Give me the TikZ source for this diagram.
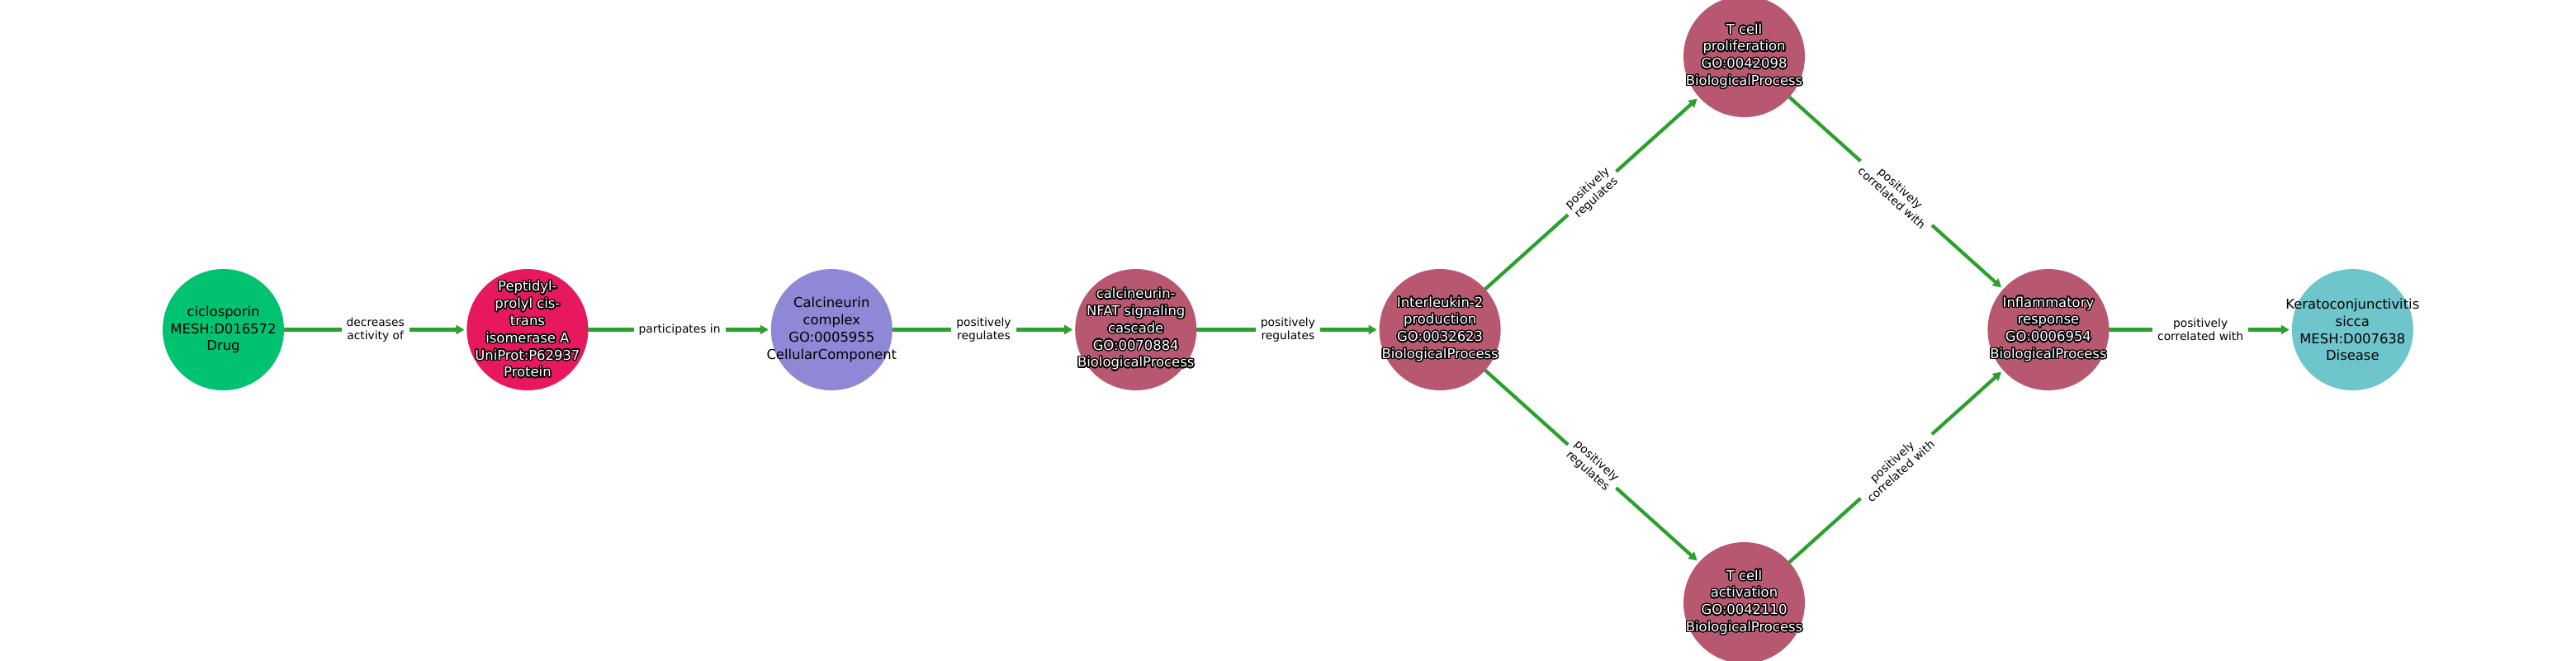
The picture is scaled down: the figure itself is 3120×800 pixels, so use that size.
\documentclass[tikz,border=0pt]{standalone}
\usepackage{fontspec}
\setmainfont{DejaVu Sans}
\usepackage[copies]{contour}
\contourlength{0.7pt}
\contournumber{24}
\usetikzlibrary{arrows.meta}
\definecolor{cdrug}{RGB}{0,194,112}
\definecolor{cprot}{RGB}{231,24,93}
\definecolor{ccc}{RGB}{142,136,214}
\definecolor{cbp}{RGB}{184,88,112}
\definecolor{cdis}{RGB}{110,197,204}
\definecolor{egreen}{RGB}{44,160,44}
\newcommand{\wl}[1]{\contour{black}{#1}}
\tikzset{
  ent/.style={circle, minimum size=73.5pt, inner sep=0pt, outer sep=0pt},
  drug/.style={ent, fill=cdrug},
  prot/.style={ent, fill=cprot},
  ccomp/.style={ent, fill=ccc},
  bproc/.style={ent, fill=cbp},
  dis/.style={ent, fill=cdis},
  btxt/.style={align=center, text=black, font=\fontsize{8.2}{10.4}\selectfont, inner sep=0pt},
  wtxt/.style={align=center, text=white, font=\fontsize{8.2}{10.4}\selectfont, inner sep=0pt},
  edge/.style={draw=egreen, line width=2.1pt, shorten >=1.5pt, -{Triangle[length=5pt,width=5.5pt]}},
  elbl/.style={fill=white, align=center, text=black, inner xsep=3pt, inner ysep=1pt, font=\fontsize{6.9}{7.9}\selectfont}
}
\begin{document}
\begin{tikzpicture}[x=0.5pt, y=-0.5pt]
\useasboundingbox (0,0) rectangle (3120,800);
\node[drug, label={[btxt]center:{ciclosporin\\MESH:D016572\\Drug}}] (cic) at (270.5,399.5) {};
\node[prot, label={[wtxt]center:{\wl{Peptidyl-}\\\wl{prolyl cis-}\\\wl{trans}\\\wl{isomerase A}\\\wl{UniProt:P62937}\\\wl{Protein}}}] (ppi) at (638.9,399.5) {};
\node[ccomp, label={[btxt]center:{Calcineurin\\complex\\GO:0005955\\CellularComponent}}] (cal) at (1007.3,399.5) {};
\node[bproc, label={[wtxt]center:{\wl{calcineurin-}\\\wl{NFAT signaling}\\\wl{cascade}\\\wl{GO:0070884}\\\wl{BiologicalProcess}}}] (nfat) at (1375.7,399.5) {};
\node[bproc, label={[wtxt]center:{\wl{Interleukin-2}\\\wl{production}\\\wl{GO:0032623}\\\wl{BiologicalProcess}}}] (il2) at (1744.1,399.5) {};
\node[bproc, label={[wtxt]center:{\wl{T cell}\\\wl{proliferation}\\\wl{GO:0042098}\\\wl{BiologicalProcess}}}] (tprol) at (2112.5,68.5) {};
\node[bproc, label={[wtxt]center:{\wl{T cell}\\\wl{activation}\\\wl{GO:0042110}\\\wl{BiologicalProcess}}}] (tact) at (2112.5,730.5) {};
\node[bproc, label={[wtxt]center:{\wl{Inflammatory}\\\wl{response}\\\wl{GO:0006954}\\\wl{BiologicalProcess}}}] (infl) at (2480.9,399.5) {};
\node[dis, label={[btxt]center:{Keratoconjunctivitis\\sicca\\MESH:D007638\\Disease}}] (kcs) at (2849.3,399.5) {};
\draw[edge] (cic) -- node[elbl]{decreases\\activity of} (ppi);
\draw[edge] (ppi) -- node[elbl]{participates in} (cal);
\draw[edge] (cal) -- node[elbl]{positively\\regulates} (nfat);
\draw[edge] (nfat) -- node[elbl]{positively\\regulates} (il2);
\draw[edge] (il2) -- node[elbl, sloped]{positively\\regulates} (tprol);
\draw[edge] (il2) -- node[elbl, sloped]{positively\\regulates} (tact);
\draw[edge] (tprol) -- node[elbl, sloped]{positively\\correlated with} (infl);
\draw[edge] (tact) -- node[elbl, sloped]{positively\\correlated with} (infl);
\draw[edge] (infl) -- node[elbl]{positively\\correlated with} (kcs);
\end{tikzpicture}
\end{document}
